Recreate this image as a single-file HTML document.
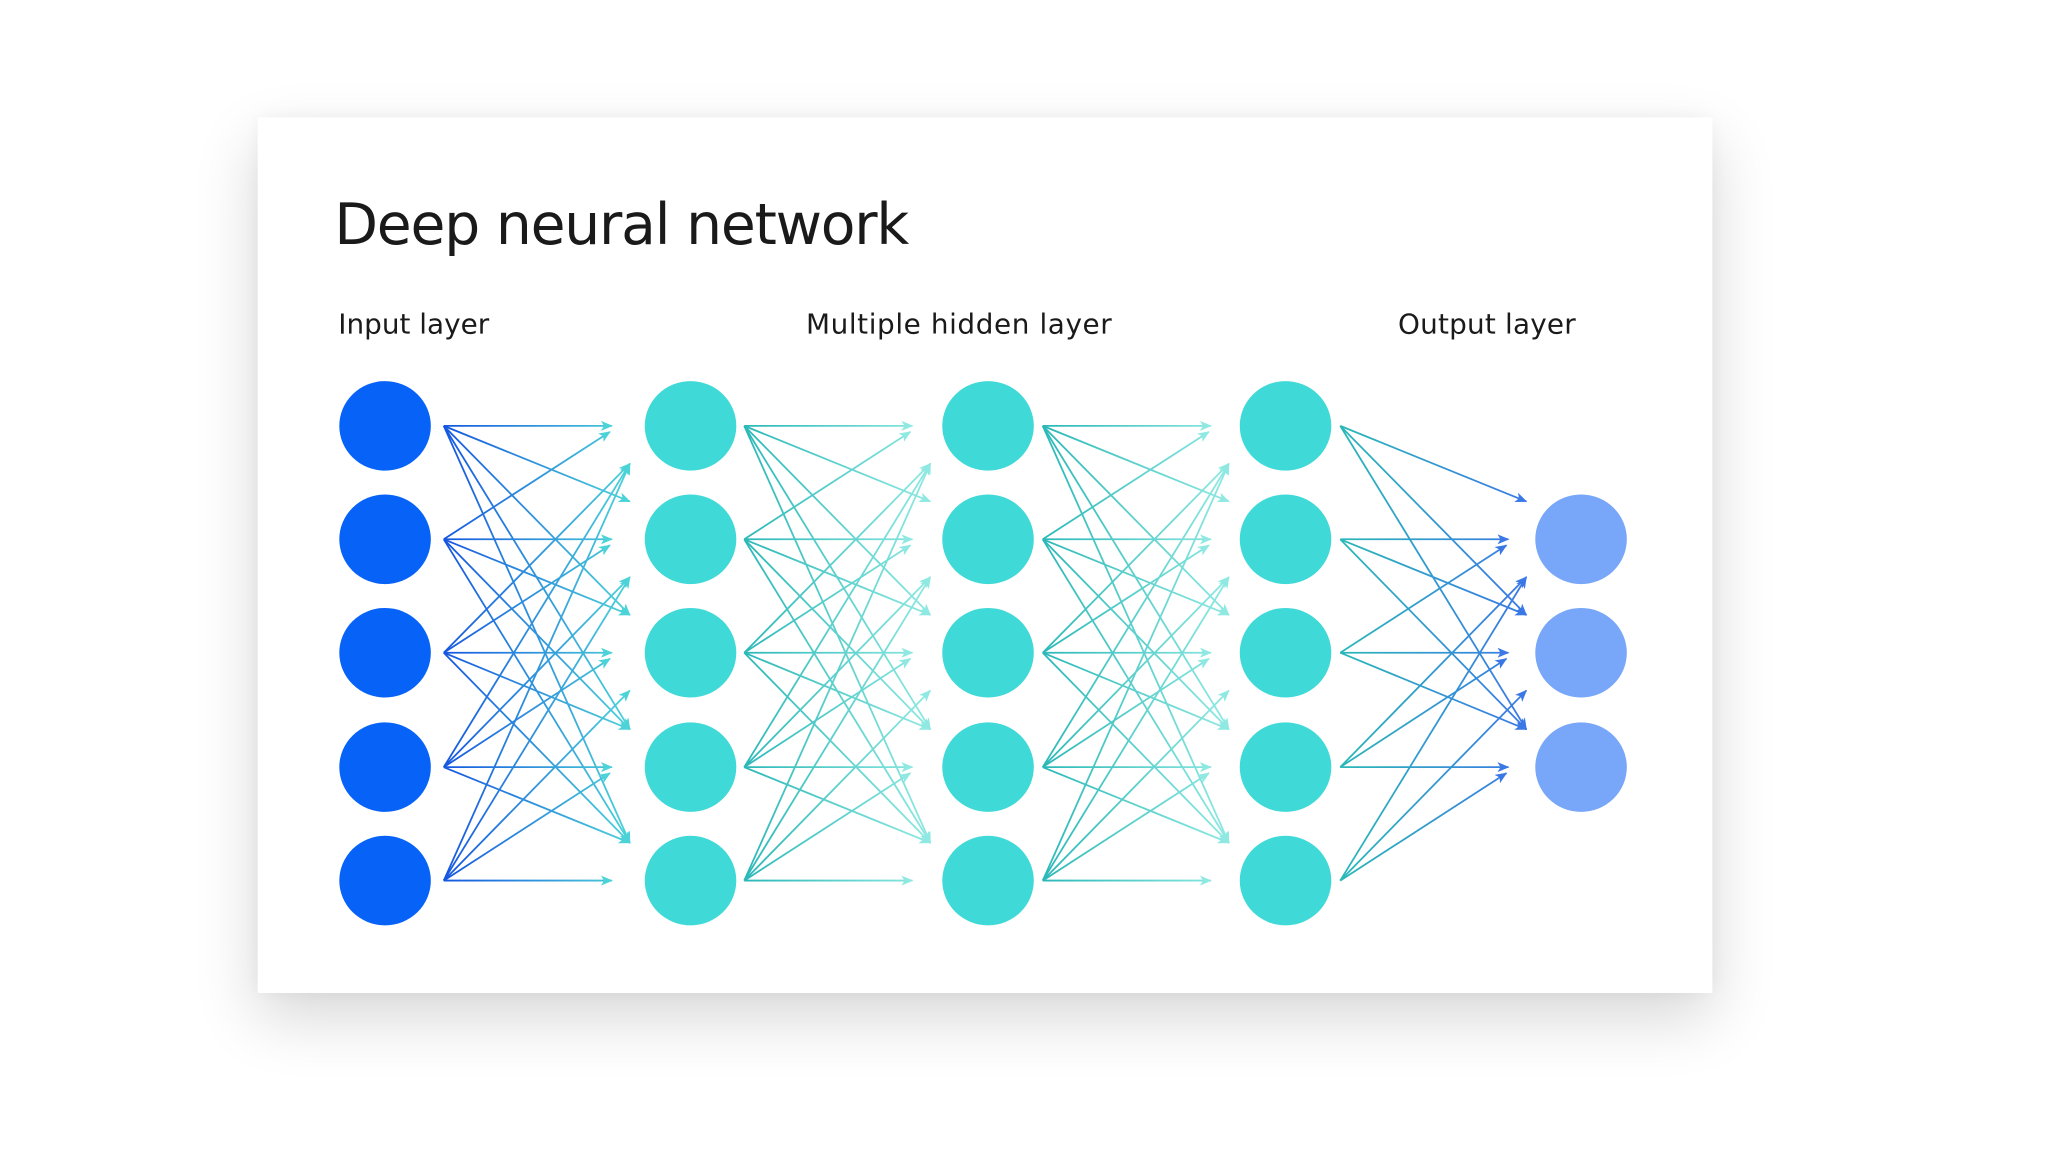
<!DOCTYPE html>
<html><head><meta charset="utf-8"><style>
html,body{margin:0;padding:0;background:#fff;width:2048px;height:1152px;overflow:hidden;position:relative;font-family:"DejaVu Sans","Liberation Sans",sans-serif}
#w{position:absolute;left:0;top:0;width:2048px;height:1152px;transform:scale(0.995);transform-origin:0 0}
.card{position:absolute;left:259px;top:118px;width:1462px;height:880px;background:#fff;box-shadow:0 25px 60px rgba(0,0,0,0.16),0 0 20px rgba(0,0,0,0.05)}
.t{position:absolute;color:#1a1a1a;white-space:nowrap}
</style></head><body><div id="w">
<div class="card"></div>
<div class="t" style="left:336px;top:193px;font-size:57px;letter-spacing:-1.2px">Deep neural network</div>
<div class="t" style="left:340px;top:309px;font-size:28px">Input layer</div>
<div class="t" style="left:810px;top:309px;font-size:28px;letter-spacing:0.6px">Multiple hidden layer</div>
<div class="t" style="left:1405px;top:309px;font-size:28px;letter-spacing:0.2px">Output layer</div>
<svg id="s" width="2048" height="1152" style="position:absolute;left:0;top:0"></svg>
</div>
<script>
const s=document.getElementById('s');const NS='http://www.w3.org/2000/svg';
let defs=document.createElementNS(NS,'defs');s.appendChild(defs);
const Y5=[428,542,656,771,885],Y3=[542,656,771];
const layers=[
 {x0:446,x1:615,src:Y5,dst:Y5,c0:'#1556e0',c1:'#4cd3d8'},
 {x0:748,x1:917,src:Y5,dst:Y5,c0:'#2bb8b8',c1:'#8fe9e2'},
 {x0:1048,x1:1217,src:Y5,dst:Y5,c0:'#2bb8b8',c1:'#8fe9e2'},
 {x0:1347,x1:1516,src:Y5,dst:Y3,c0:'#2bb8b8',c1:'#3a78e6'}];
let h='';
layers.forEach((L,k)=>{
 h+=`<linearGradient id="g${k}" gradientUnits="userSpaceOnUse" x1="${L.x0}" y1="0" x2="${L.x1+18}" y2="0"><stop offset="0" stop-color="${L.c0}"/><stop offset="1" stop-color="${L.c1}"/></linearGradient>`;
 h+=`<marker id="m${k}" markerWidth="12" markerHeight="10" refX="11" refY="5" orient="auto" markerUnits="userSpaceOnUse"><path d="M0,0 L12,5 L0,10 L3,5 Z" fill="${L.c1}"/></marker>`;
});
defs.innerHTML=h;
let g='';
layers.forEach((L,k)=>{
 L.src.forEach((ys,i)=>{L.dst.forEach((yd,j)=>{
  let ex,ey;
  if(Math.abs(ys-yd)<1){ex=L.x1;ey=yd;}
  else if(yd>ys){ex=L.x1+18;ey=yd-38;}
  else if(ys-yd<120){ex=L.x1-2;ey=yd+6;}
  else{ex=L.x1+18;ey=yd+38;}
  g+=`<line x1="${L.x0}" y1="${ys}" x2="${ex}" y2="${ey}" stroke="url(#g${k})" stroke-width="1.8" marker-end="url(#m${k})"/>`;
 });});
});
const cols=[[387,Y5,'#0763f8'],[694,Y5,'#3fd9d8'],[993,Y5,'#3fd9d8'],[1292,Y5,'#3fd9d8'],[1589,Y3,'#78a6f8']];
cols.forEach(c=>c[1].forEach(y=>{g+=`<ellipse cx="${c[0]}" cy="${y}" rx="46" ry="45" fill="${c[2]}"/>`;}));
s.insertAdjacentHTML('beforeend',g);
</script>
</body></html>
